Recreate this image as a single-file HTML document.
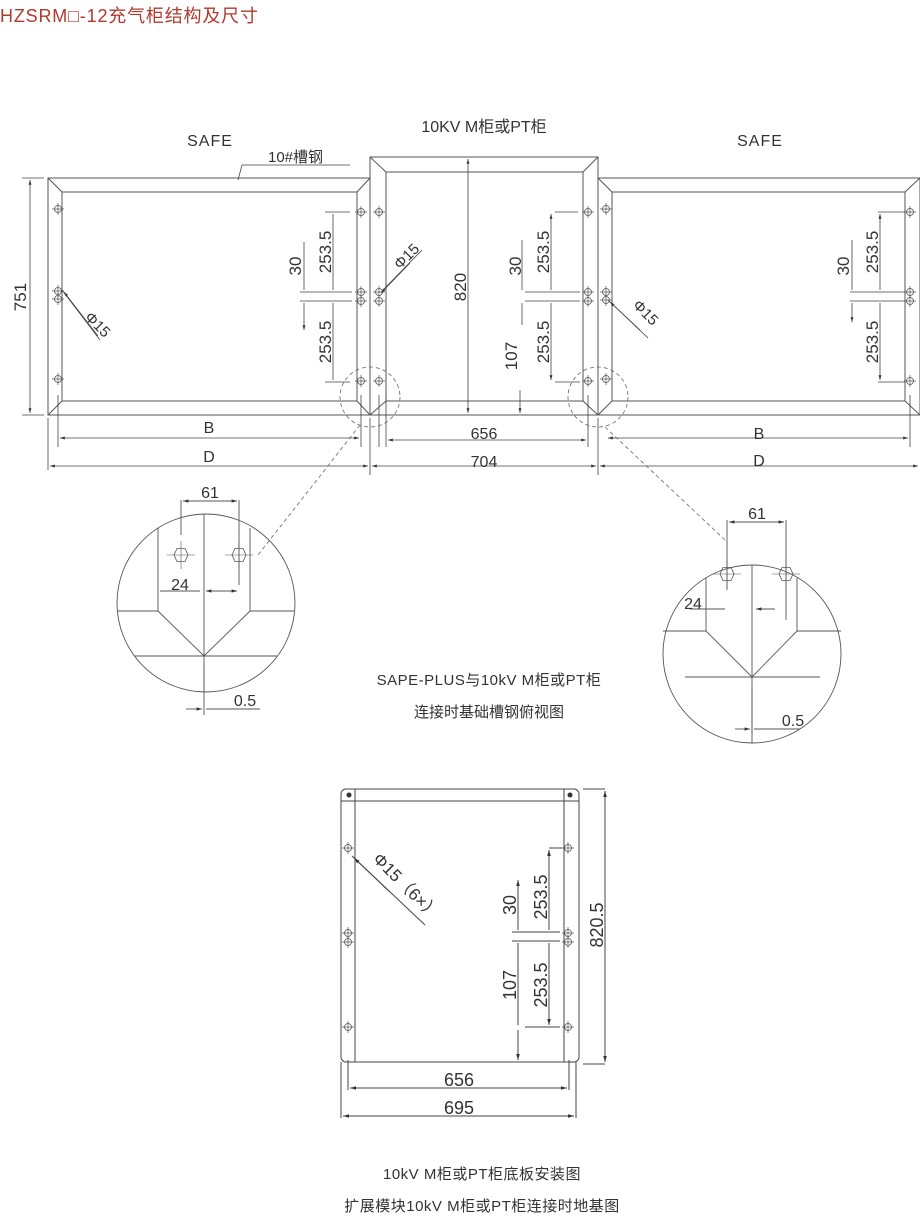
<!DOCTYPE html>
<html><head><meta charset="utf-8"><style>
body{margin:0;background:#fff}
svg{display:block}
text{font-family:"Liberation Sans","Noto Sans CJK SC",sans-serif;fill:#333}
</style></head><body>
<svg width="920" height="1216" viewBox="0 0 920 1216" xmlns="http://www.w3.org/2000/svg">
<defs>
<marker id="a" viewBox="0 0 10 10" refX="10" refY="5" markerWidth="6" markerHeight="6" orient="auto-start-reverse"><path d="M0,2L10,5L0,8z" fill="#333"/></marker>
<g id="h"><circle r="3.5" fill="none" stroke="#555" stroke-width="0.8"/><path d="M-6,0H6M0,-6V6" stroke="#555" stroke-width="0.7"/></g>
<g id="hx"><path d="M-4,-6.5L4,-6.5L7,0L4,6.5L-4,6.5L-7,0z" fill="none" stroke="#555" stroke-width="0.8"/><path d="M-14,0H14M0,-14V14" stroke="#555" stroke-width="0.6"/></g>
</defs>
<text x="0" y="22" font-size="18" textLength="258" style="fill:#b03a2e">HZSRM□-12充气柜结构及尺寸</text>
<g stroke="#555" stroke-width="1" fill="none">
<rect x="48" y="178" width="322" height="237"/>
<rect x="62" y="192" width="295" height="209"/>
<path d="M48,178L62,192M370,178L357,192M48,415L62,401M370,415L357,401"/>
<rect x="370" y="157" width="228" height="258"/>
<rect x="386" y="172" width="197" height="229"/>
<path d="M370,157L386,172M598,157L583,172M370,415L386,401M598,415L583,401"/>
<rect x="598" y="178" width="322" height="237"/>
<rect x="612" y="192" width="293" height="209"/>
<path d="M598,178L612,192M920,178L905,192M598,415L612,401M920,415L905,401"/>
</g>
<g>
<use href="#h" x="58" y="209"/><use href="#h" x="58" y="291"/><use href="#h" x="58" y="299"/><use href="#h" x="58" y="379"/>
<use href="#h" x="361" y="212"/><use href="#h" x="361" y="292"/><use href="#h" x="361" y="301"/><use href="#h" x="361" y="381"/>
<use href="#h" x="379" y="212"/><use href="#h" x="379" y="292"/><use href="#h" x="379" y="301"/><use href="#h" x="379" y="381"/>
<use href="#h" x="588" y="212"/><use href="#h" x="588" y="292"/><use href="#h" x="588" y="301"/><use href="#h" x="588" y="381"/>
<use href="#h" x="606" y="209"/><use href="#h" x="606" y="292"/><use href="#h" x="606" y="300"/><use href="#h" x="606" y="379"/>
<use href="#h" x="910" y="212"/><use href="#h" x="910" y="292"/><use href="#h" x="910" y="301"/><use href="#h" x="910" y="381"/>
</g>
<g stroke="#444" stroke-width="0.8" fill="none">
<path d="M22,178H44M22,415H44"/><path d="M30,180V413" marker-start="url(#a)" marker-end="url(#a)"/>
<path d="M238,180L242,165H350"/>
<path d="M325,212H350M300,292H352M300,301H352M325,382H350"/>
<path d="M333,214V290M333,303V380M304,242V290M304,303V330" marker-end="url(#a)"/>
<path d="M62,290L100,340"/><path d="M64,292L98,336" marker-start="url(#a)"/>
<path d="M58,395V447M361,395V447M48,418V470M370,418V475M379,395V447"/>
<path d="M60,438H359" marker-start="url(#a)" marker-end="url(#a)"/>
<path d="M50,466H368" marker-start="url(#a)" marker-end="url(#a)"/>
<path d="M468,159V413" marker-start="url(#a)" marker-end="url(#a)"/>
<path d="M383,290L422,250"/><path d="M381,293L410,263" marker-start="url(#a)"/>
<path d="M555,212H578M525,292H580M525,301H580M555,382H580"/>
<path d="M551,214V290M551,303V380" marker-start="url(#a)" marker-end="url(#a)"/>
<path d="M522,240V290M522,303V325M520,390V413" marker-end="url(#a)"/>
<path d="M386,395V447M588,395V447M598,418V475"/>
<path d="M388,440H586" marker-start="url(#a)" marker-end="url(#a)"/>
<path d="M372,466H596" marker-start="url(#a)" marker-end="url(#a)"/>
<path d="M878,212H905M850,292H905M850,301H905M878,382H905"/>
<path d="M880,214V290M880,303V380" marker-start="url(#a)" marker-end="url(#a)"/>
<path d="M852,240V290M852,303V322" marker-end="url(#a)"/>
<path d="M608,300L648,338"/><path d="M610,302L640,330" marker-start="url(#a)"/>
<path d="M910,395V447"/>
<path d="M608,438H908" marker-start="url(#a)" marker-end="url(#a)"/>
<path d="M600,466H918" marker-start="url(#a)" marker-end="url(#a)"/>
</g>
<g stroke="#666" stroke-width="0.8" fill="none" stroke-dasharray="4,3">
<circle cx="370" cy="397" r="30"/><circle cx="598" cy="397" r="30"/>
<path d="M360,425L258,555M605,427L725,540"/>
</g>
<text x="210" y="146" font-size="16" text-anchor="middle" letter-spacing="1">SAFE</text>
<text x="760" y="146" font-size="16" text-anchor="middle" letter-spacing="1">SAFE</text>
<text x="484" y="132" font-size="16" text-anchor="middle">10KV  M柜或PT柜</text>
<text x="268" y="162" font-size="15">10#槽钢</text>
<text transform="translate(26,297) rotate(-90)" font-size="17" text-anchor="middle">751</text>
<text transform="translate(331,252) rotate(-90)" font-size="17" text-anchor="middle">253.5</text>
<text transform="translate(301,266) rotate(-90)" font-size="17" text-anchor="middle">30</text>
<text transform="translate(331,342) rotate(-90)" font-size="17" text-anchor="middle">253.5</text>
<text transform="translate(84,318) rotate(45)" font-size="15">Φ15</text>
<text transform="translate(400,270) rotate(-45)" font-size="15">Φ15</text>
<text transform="translate(632,306) rotate(45)" font-size="15">Φ15</text>
<text transform="translate(466,287) rotate(-90)" font-size="17" text-anchor="middle">820</text>
<text transform="translate(549,252) rotate(-90)" font-size="17" text-anchor="middle">253.5</text>
<text transform="translate(521,266) rotate(-90)" font-size="17" text-anchor="middle">30</text>
<text transform="translate(549,342) rotate(-90)" font-size="17" text-anchor="middle">253.5</text>
<text transform="translate(517,356) rotate(-90)" font-size="17" text-anchor="middle">107</text>
<text transform="translate(878,252) rotate(-90)" font-size="17" text-anchor="middle">253.5</text>
<text transform="translate(849,266) rotate(-90)" font-size="17" text-anchor="middle">30</text>
<text transform="translate(878,342) rotate(-90)" font-size="17" text-anchor="middle">253.5</text>
<text x="209" y="433" font-size="16" text-anchor="middle">B</text>
<text x="209" y="462" font-size="16" text-anchor="middle">D</text>
<text x="484" y="439" font-size="16" text-anchor="middle">656</text>
<text x="484" y="467" font-size="16" text-anchor="middle">704</text>
<text x="759" y="439" font-size="16" text-anchor="middle">B</text>
<text x="759" y="466" font-size="16" text-anchor="middle">D</text>
<g stroke="#555" stroke-width="0.9" fill="none">
<circle cx="206" cy="603" r="89"/>
<path d="M204,514V692M158,528V611M250,528V611M117,611H158L204,656L250,611H294M135,656H277"/>
<path d="M181,500V535M239,500V585"/>
<path d="M183,501H237" marker-start="url(#a)" marker-end="url(#a)"/>
<path d="M160,591H200"/><path d="M206,591H237" marker-start="url(#a)" marker-end="url(#a)"/>
<path d="M204,665V715"/><path d="M186,709H202" marker-end="url(#a)"/>
<path d="M206,709H260"/>
</g>
<use href="#hx" x="181" y="555"/><use href="#hx" x="239" y="555"/>
<text x="210" y="498" font-size="16" text-anchor="middle">61</text>
<text x="180" y="590" font-size="16" text-anchor="middle">24</text>
<text x="245" y="706" font-size="16" text-anchor="middle">0.5</text>
<g stroke="#555" stroke-width="0.9" fill="none">
<circle cx="752" cy="654" r="89"/>
<path d="M752,565V743M706,578V631M797,578V631M663,631H706L752,677L797,631H841M685,677H820"/>
<path d="M727,520V590M786,520V620"/>
<path d="M729,522H784" marker-start="url(#a)" marker-end="url(#a)"/>
<path d="M690,609H725"/><path d="M775,609H756" marker-end="url(#a)"/>
<path d="M752,690V735"/><path d="M735,729H750" marker-end="url(#a)"/><path d="M754,729H800"/>
</g>
<use href="#hx" x="727" y="574"/><use href="#hx" x="786" y="574"/>
<text x="757" y="519" font-size="16" text-anchor="middle">61</text>
<text x="693" y="609" font-size="16" text-anchor="middle">24</text>
<text x="793" y="726" font-size="16" text-anchor="middle">0.5</text>
<text x="489" y="685" font-size="15" text-anchor="middle" letter-spacing="0.5">SAPE-PLUS与10kV  M柜或PT柜</text>
<text x="489" y="717" font-size="15" text-anchor="middle">连接时基础槽钢俯视图</text>
<g stroke="#444" stroke-width="1" fill="none">
<rect x="341" y="789" width="238" height="273" rx="5"/>
<path d="M341,801H579M355,789V1062M564,789V1062"/>
<path d="M583,789H605M583,1064H605"/><path d="M605,791V1062" marker-start="url(#a)" marker-end="url(#a)"/>
<path d="M549,848H562M512,932H560M512,941H560M525,1027H560"/>
<path d="M549,850V930M549,943V1025" marker-start="url(#a)" marker-end="url(#a)"/>
<path d="M518,880V930M518,943V1025M518,1030V1060" marker-start="url(#a)" marker-end="url(#a)"/>
<path d="M352,856L425,925"/><path d="M354,858L390,892" marker-start="url(#a)"/>
<path d="M348,1060V1090M569,1060V1090M341,1062V1118M576,1062V1118"/>
<path d="M350,1088H567" marker-start="url(#a)" marker-end="url(#a)"/>
<path d="M343,1116H574" marker-start="url(#a)" marker-end="url(#a)"/>
</g>
<circle cx="349" cy="795" r="2.5" fill="#333"/><circle cx="570" cy="795" r="2.5" fill="#333"/>
<use href="#h" x="348" y="848"/><use href="#h" x="348" y="933"/><use href="#h" x="348" y="942"/><use href="#h" x="348" y="1027"/>
<use href="#h" x="568" y="848"/><use href="#h" x="568" y="933"/><use href="#h" x="568" y="942"/><use href="#h" x="568" y="1027"/>
<text transform="translate(603,925) rotate(-90)" font-size="18" text-anchor="middle">820.5</text>
<text transform="translate(547,897) rotate(-90)" font-size="18" text-anchor="middle">253.5</text>
<text transform="translate(516,905) rotate(-90)" font-size="18" text-anchor="middle">30</text>
<text transform="translate(547,985) rotate(-90)" font-size="18" text-anchor="middle">253.5</text>
<text transform="translate(516,985) rotate(-90)" font-size="18" text-anchor="middle">107</text>
<text transform="translate(372,860) rotate(45)" font-size="17">Φ15（6×）</text>
<text x="459" y="1086" font-size="18" text-anchor="middle">656</text>
<text x="459" y="1114" font-size="18" text-anchor="middle">695</text>
<text x="482" y="1179" font-size="15" text-anchor="middle" letter-spacing="0.5">10kV  M柜或PT柜底板安装图</text>
<text x="482" y="1211" font-size="15" text-anchor="middle" letter-spacing="0.5">扩展模块10kV  M柜或PT柜连接时地基图</text>
</svg>
</body></html>
